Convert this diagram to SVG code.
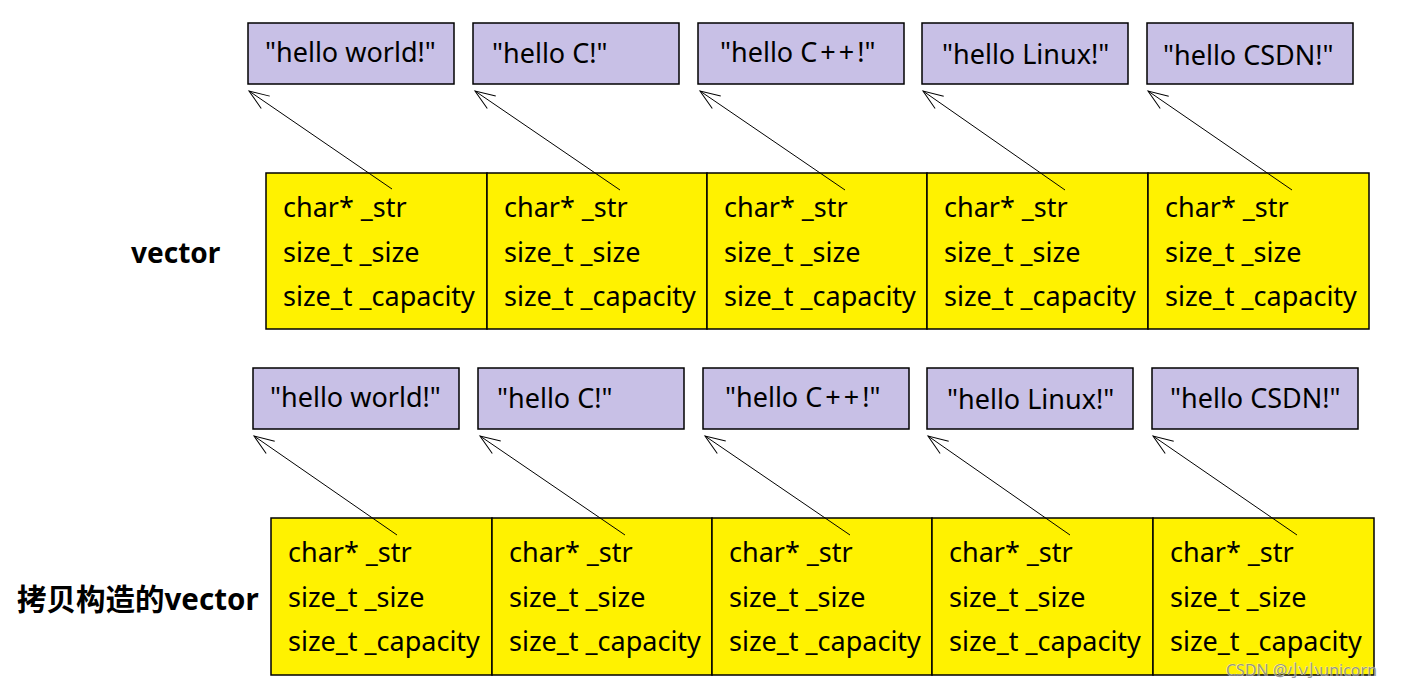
<svg xmlns="http://www.w3.org/2000/svg" width="1408" height="684" viewBox="0 0 1408 684">
<style>
  .str rect { fill: #C8C0E6; stroke: #000; stroke-width: 1.5; }
  .cell rect { fill: #FFF200; stroke: #000; stroke-width: 1.5; }
  text { font-family: "Noto Sans", "Noto Sans CJK SC", sans-serif; fill: #000; }
  .t { font-size: 27px; }
  .lbl { font-size: 28px; font-weight: bold; }
  .wm { font-size: 16px; fill: #8a8a8a; stroke: #fff; stroke-width: 0.6; paint-order: stroke; opacity: 0.85; }
  #connectors line { stroke: #000; stroke-width: 1; marker-end: url(#arr); }
</style>
<defs>
  <marker id="arr" markerUnits="userSpaceOnUse" markerWidth="24" markerHeight="20" viewBox="-22 -10 24 20" refX="0" refY="0" orient="auto">
    <path d="M-20,-7.5 L0,0 L-20,7.5" fill="none" stroke="#000" stroke-width="1"/>
  </marker>
</defs>
<rect width="1408" height="684" fill="#fff"/>

<g id="label-vector"><text class="lbl" x="131" y="263">vector</text></g>
<g id="label-copy"><text class="lbl" x="17" y="610" style="font-size:29.5px">拷贝构造的vector</text></g>

<!-- top row strings -->
<g id="s1" class="str"><rect x="248" y="23" width="206" height="61"/><text class="t" x="265" y="62">"hello world!"</text></g>
<g id="s2" class="str"><rect x="473" y="23" width="206" height="61"/><text class="t" x="492" y="63">"hello C!"</text></g>
<g id="s3" class="str"><rect x="698" y="23" width="206" height="61"/><text class="t" x="720" y="62">"hello C<tspan dx="3">+</tspan><tspan dx="3">+</tspan><tspan dx="3">!"</tspan></text></g>
<g id="s4" class="str"><rect x="922" y="23" width="206" height="61"/><text class="t" x="942" y="64">"hello Linux!"</text></g>
<g id="s5" class="str"><rect x="1147" y="23" width="206" height="61"/><text class="t" x="1163" y="65">"hello CSDN!"</text></g>

<!-- top row cells -->
<g id="c1" class="cell"><rect x="266" y="173" width="221" height="156"/><text class="t" x="283" y="217">char* _str</text><text class="t" x="283" y="262">size_t _size</text><text class="t" x="283" y="306">size_t _capacity</text></g>
<g id="c2" class="cell"><rect x="487" y="173" width="220" height="156"/><text class="t" x="504" y="217">char* _str</text><text class="t" x="504" y="262">size_t _size</text><text class="t" x="504" y="306">size_t _capacity</text></g>
<g id="c3" class="cell"><rect x="707" y="173" width="220" height="156"/><text class="t" x="724" y="217">char* _str</text><text class="t" x="724" y="262">size_t _size</text><text class="t" x="724" y="306">size_t _capacity</text></g>
<g id="c4" class="cell"><rect x="927" y="173" width="221" height="156"/><text class="t" x="944" y="217">char* _str</text><text class="t" x="944" y="262">size_t _size</text><text class="t" x="944" y="306">size_t _capacity</text></g>
<g id="c5" class="cell"><rect x="1148" y="173" width="221" height="156"/><text class="t" x="1165" y="217">char* _str</text><text class="t" x="1165" y="262">size_t _size</text><text class="t" x="1165" y="306">size_t _capacity</text></g>

<!-- bottom row strings -->
<g id="s6" class="str"><rect x="253" y="368" width="206" height="61"/><text class="t" x="270" y="407">"hello world!"</text></g>
<g id="s7" class="str"><rect x="478" y="368" width="206" height="61"/><text class="t" x="497" y="408">"hello C!"</text></g>
<g id="s8" class="str"><rect x="703" y="368" width="206" height="61"/><text class="t" x="725" y="407">"hello C<tspan dx="3">+</tspan><tspan dx="3">+</tspan><tspan dx="3">!"</tspan></text></g>
<g id="s9" class="str"><rect x="927" y="368" width="206" height="61"/><text class="t" x="947" y="409">"hello Linux!"</text></g>
<g id="s10" class="str"><rect x="1152" y="368" width="206" height="61"/><text class="t" x="1170" y="408">"hello CSDN!"</text></g>

<!-- bottom row cells -->
<g id="c6" class="cell"><rect x="271" y="518" width="221" height="157"/><text class="t" x="288" y="562">char* _str</text><text class="t" x="288" y="607">size_t _size</text><text class="t" x="288" y="651">size_t _capacity</text></g>
<g id="c7" class="cell"><rect x="492" y="518" width="220" height="157"/><text class="t" x="509" y="562">char* _str</text><text class="t" x="509" y="607">size_t _size</text><text class="t" x="509" y="651">size_t _capacity</text></g>
<g id="c8" class="cell"><rect x="712" y="518" width="220" height="157"/><text class="t" x="729" y="562">char* _str</text><text class="t" x="729" y="607">size_t _size</text><text class="t" x="729" y="651">size_t _capacity</text></g>
<g id="c9" class="cell"><rect x="932" y="518" width="221" height="157"/><text class="t" x="949" y="562">char* _str</text><text class="t" x="949" y="607">size_t _size</text><text class="t" x="949" y="651">size_t _capacity</text></g>
<g id="c10" class="cell"><rect x="1153" y="518" width="221" height="157"/><text class="t" x="1170" y="562">char* _str</text><text class="t" x="1170" y="607">size_t _size</text><text class="t" x="1170" y="651">size_t _capacity</text></g>

<g id="connectors">
  <line x1="392" y1="189" x2="249" y2="91"/>
  <line x1="620" y1="190" x2="475" y2="91"/>
  <line x1="845" y1="190" x2="700" y2="91"/>
  <line x1="1065" y1="190" x2="923" y2="91"/>
  <line x1="1292" y1="190" x2="1148" y2="91"/>
  <line x1="397" y1="535" x2="254" y2="436"/>
  <line x1="625" y1="535" x2="480" y2="436"/>
  <line x1="850" y1="535" x2="705" y2="436"/>
  <line x1="1070" y1="535" x2="928" y2="436"/>
  <line x1="1297" y1="535" x2="1153" y2="436"/>
</g>

<text class="wm" x="1226" y="676">CSDN @小小unicorn</text>
</svg>
